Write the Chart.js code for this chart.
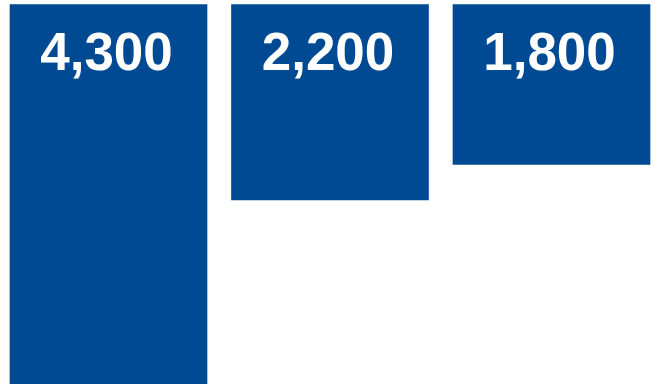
<!DOCTYPE html>
<html>
<head>
<meta charset="utf-8">
<script src="https://cdn.jsdelivr.net/npm/chart.js@4"></script>
<style>
  html, body { margin: 0; padding: 0; background: #ffffff; }
  #wrap { width: 660px; height: 384px; position: relative; }
</style>
</head>
<body>
<div id="wrap"><canvas id="chart"></canvas></div>
<script>
// ===== DONNÉES =====
const categories = ['A', 'B', 'C']
const values = [4300, 2200, 1800]
const valueLabels = ['4,300', '2,200', '1,800']

const barColor = '#004a93'

// étiquettes blanches en haut de chaque barre
const topLabels = {
  id: 'topLabels',
  afterDatasetsDraw(chart) {
    const ctx = chart.ctx
    const meta = chart.getDatasetMeta(0)
    ctx.save()
    ctx.fillStyle = '#ffffff'
    ctx.font = 'bold 53px "Liberation Sans", Arial, sans-serif'
    ctx.textAlign = 'center'
    ctx.textBaseline = 'alphabetic'
    meta.data.forEach((bar, i) => {
      ctx.fillText(valueLabels[i], bar.x - 2, 70)
    })
    ctx.restore()
  },
}

new Chart(document.getElementById('chart'), {
  type: 'bar',
  data: {
    labels: categories,
    datasets: [
      {
        data: values,
        backgroundColor: barColor,
        borderWidth: 0,
        barThickness: 197,
        clip: false,
      },
    ],
  },
  options: {
    responsive: true,
    maintainAspectRatio: false,
    animation: false,
    layout: { padding: { left: 108.5, right: 108.5, top: 4.5, bottom: 0 } },
    scales: {
      x: { display: false, offset: false, grid: { display: false } },
      y: { display: false, reverse: true, min: 0, max: 4270, grid: { display: false } },
    },
    plugins: {
      legend: { display: false },
      tooltip: { enabled: false },
    },
  },
  plugins: [topLabels],
})
</script>
</body>
</html>
